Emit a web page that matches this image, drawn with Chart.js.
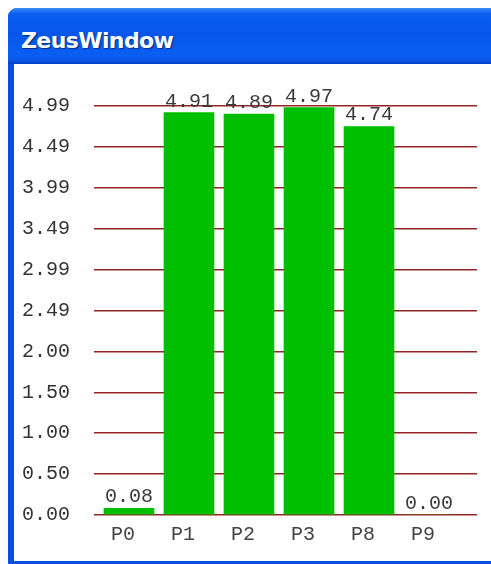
<!DOCTYPE html>
<html>
<head>
<meta charset="utf-8">
<script src="https://cdn.jsdelivr.net/npm/chart.js@4"></script>
<style>
  html, body { margin: 0; padding: 0; background: #fff; }
  body { width: 491px; height: 564px; position: relative; overflow: hidden; }
  #win {
    position: absolute; left: 8px; top: 8px; width: 500px; height: 556px;
    background: #0a4fe4; border-radius: 9px 9px 0 0;
  }
  #titlebar {
    position: absolute; left: 0; top: 0; right: 0; height: 56px;
    border-radius: 9px 9px 0 0;
    background: linear-gradient(to bottom, #3c8cf8 0%, #0b5ff0 10%, #0656ea 45%, #0a5ef2 85%, #0a55e4 94%, #0242cc 100%);
  }
  #title {
    position: absolute; left: 13px; top: 20px;
    font: bold 22px "DejaVu Sans", sans-serif; letter-spacing: -0.6px;
    color: #fff; text-shadow: 1px 1px 1px #0a2a80;
  }
  #client {
    position: absolute; left: 6px; top: 56px; right: 0; bottom: 3px; background: #fff;
  }
  #chart { position: absolute; left: 0; top: 0; }
</style>
</head>
<body>
<div id="win">
  <div id="titlebar"><div id="title">ZeusWindow</div></div>
  <div id="client"><canvas id="chart" width="477" height="497"></canvas></div>
</div>
<script>
const categories = ["P0", "P1", "P2", "P3", "P8", "P9"];
const values = [0.08, 4.91, 4.89, 4.97, 4.74, 0.0];
const yTickLabels = ["0.00", "0.50", "1.00", "1.50", "2.00", "2.49", "2.99", "3.49", "3.99", "4.49", "4.99"];
const yMax = 4.99;

const monoFont = { family: "'Liberation Mono', 'Courier New', monospace", size: 20 };
const gridColor = "#922626";

// labels sitting on top of each bar
const valueLabels = {
  id: "valueLabels",
  afterDatasetsDraw(chart) {
    const ctx = chart.ctx;
    ctx.save();
    ctx.font = `${monoFont.size}px ${monoFont.family}`;
    ctx.fillStyle = "#3a3a3a";
    ctx.textAlign = "center";
    ctx.textBaseline = "alphabetic";
    chart.getDatasetMeta(0).data.forEach((bar, i) => {
      ctx.fillText(values[i].toFixed(2), bar.x, bar.y - 6);
    });
    ctx.restore();
  },
};

new Chart(document.getElementById("chart").getContext("2d"), {
  type: "bar",
  data: {
    datasets: [
      {
        data: values.map((v, i) => ({ x: i, y: v })),
        backgroundColor: "#00bf00",
        borderWidth: 0,
        barThickness: 50,
      },
    ],
  },
  options: {
    responsive: false,
    animation: false,
    layout: { padding: { top: 42, right: 14, left: 0, bottom: 0 } },
    plugins: { legend: { display: false }, tooltip: { enabled: false } },
    scales: {
      x: {
        type: "linear",
        offset: false,
        min: -0.583,
        max: 5.8,
        grid: { display: false },
        border: { display: false },
        afterBuildTicks: (scale) => {
          scale.ticks = categories.map((_, i) => ({ value: i }));
        },
        afterFit: (scale) => {
          scale.height = 46;
        },
        ticks: {
          font: monoFont,
          color: "#444",
          padding: 0,
          labelOffset: -6,
          maxRotation: 0,
          callback: (v) => categories[v] ?? "",
        },
      },
      y: {
        min: 0,
        max: yMax,
        grid: { color: gridColor, lineWidth: 1.5, drawTicks: false },
        border: { display: false },
        afterBuildTicks: (scale) => {
          scale.ticks = yTickLabels.map((_, i) => ({ value: (i * yMax) / 10 }));
        },
        afterFit: (scale) => {
          scale.width = 80;
        },
        ticks: {
          font: monoFont,
          color: "#333",
          padding: 24,
          callback: (v, i) => yTickLabels[i],
        },
      },
    },
  },
  plugins: [valueLabels],
});
</script>
</body>
</html>
